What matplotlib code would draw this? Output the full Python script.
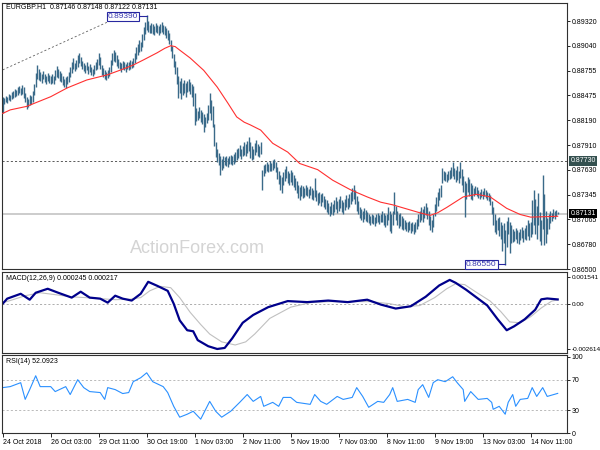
import matplotlib
matplotlib.use('Agg')
import matplotlib.pyplot as plt
import numpy as np

plt.rcParams['font.family'] = ['Liberation Sans', 'DejaVu Sans']

# hourly EURGBP bars, high / low in pips (0.0001)
highs = [8846, 8845, 8847, 8846, 8849, 8848, 8851, 8853,
         8855, 8854, 8857, 8858, 8856, 8859, 8857,
         8850, 8846, 8843, 8848, 8847, 8852,
         8860, 8873, 8882,
         8877, 8874, 8872, 8875, 8872, 8870, 8873, 8871, 8869, 8872, 8870, 8876, 8881, 8878, 8875, 8873, 8870, 8866, 8868, 8870,
         8874, 8880, 8886, 8890, 8884, 8888, 8893, 8896, 8891, 8887,
         8884, 8882, 8885, 8881, 8883, 8880, 8878, 8882, 8886, 8889,
         8896, 8891,
         8882, 8879, 8876, 8874, 8876, 8880,
         8888, 8896, 8899, 8897, 8893,
         8889, 8886, 8884, 8887, 8885, 8883, 8886, 8885, 8888, 8887, 8890,
         8896, 8902, 8906, 8910, 8908,
         8917, 8925, 8931, 8939,
         8932, 8928, 8930, 8929, 8927, 8930, 8928, 8926, 8929, 8931, 8928, 8927, 8924, 8922, 8918, 8910,
         8904, 8895, 8887, 8880,
         8870, 8864, 8867, 8862,
         8865, 8862, 8864, 8866, 8863, 8860, 8858, 8850,
         8833, 8830, 8834, 8831, 8829, 8826, 8823, 8828,
         8836, 8850, 8842, 8835,
         8815, 8794, 8786,
         8782, 8778, 8775, 8779,
         8777, 8779, 8776, 8778, 8780, 8778, 8781, 8783, 8786,
         8788, 8791, 8786, 8790, 8794, 8792, 8796, 8800, 8795, 8790, 8786, 8793, 8797, 8792, 8790, 8794,
         8763, 8768, 8770, 8772, 8770, 8773, 8771, 8774, 8775, 8772, 8766,
         8762, 8757, 8755, 8760,
         8764, 8767, 8762, 8759, 8763, 8760, 8757, 8754, 8750,
         8745, 8743, 8746, 8744,
         8742, 8745, 8743, 8741, 8744, 8742, 8740,
         8753,
         8740, 8736, 8738, 8735, 8737, 8733, 8730, 8728,
         8725, 8722, 8726, 8724,
         8729, 8732, 8727, 8730, 8733, 8729, 8726, 8730, 8734, 8731, 8735, 8738,
         8742, 8746, 8740, 8733, 8727,
         8720, 8718, 8716, 8719, 8717, 8715,
         8712, 8710, 8713, 8711, 8709, 8712, 8714, 8711, 8713,
         8716, 8714, 8711, 8713,
         8720, 8716, 8712, 8716,
         8738,
         8722, 8716, 8712, 8714, 8710, 8708,
         8706, 8704, 8703, 8705, 8702, 8704, 8701, 8703, 8707,
         8712, 8716, 8720, 8718, 8722, 8725, 8720, 8716, 8710,
         8706, 8712,
         8724, 8732, 8738, 8742, 8746,
         8765, 8762,
         8760, 8758, 8761, 8763, 8766, 8772,
         8765, 8763, 8767, 8761, 8772, 8764,
         8756, 8750, 8748,
         8755, 8752, 8748, 8745, 8742, 8744, 8743,
         8740, 8738, 8741, 8739, 8742, 8740, 8738, 8737, 8734,
         8727, 8720, 8712, 8706, 8708,
         8709, 8704, 8700, 8702, 8694, 8705,
         8709, 8704, 8700, 8696,
         8693, 8697, 8694, 8692, 8696, 8698, 8694, 8697, 8700,
         8706, 8702, 8704,
         8728, 8740, 8730, 8722,
         8736, 8715, 8706,
         8757, 8735, 8716, 8708,
         8712, 8716, 8714, 8718, 8716, 8717, 8715]

lows = [8828, 8838, 8840, 8839, 8842, 8841, 8843, 8845,
        8846, 8847, 8848, 8850, 8848, 8849, 8845,
        8840, 8832, 8834, 8836, 8838, 8840,
        8848, 8857, 8866,
        8865, 8864, 8862, 8866, 8863, 8860, 8864, 8862, 8860, 8862, 8861, 8865, 8868, 8867, 8864, 8863, 8859, 8857, 8856, 8860,
        8863, 8868, 8873, 8878, 8875, 8877, 8880, 8884, 8881, 8877,
        8875, 8873, 8876, 8872, 8874, 8871, 8869, 8872, 8876, 8878,
        8882, 8877,
        8871, 8868, 8866, 8865, 8867, 8869,
        8874, 8882, 8887, 8885, 8881,
        8879, 8877, 8874, 8878, 8876, 8874, 8877, 8876, 8878, 8879, 8880,
        8884, 8889, 8894, 8897, 8898,
        8903, 8910, 8917, 8922,
        8920, 8918, 8919, 8917, 8916, 8920, 8918, 8916, 8919, 8920, 8917, 8916, 8913, 8911, 8906, 8898,
        8890, 8880, 8872, 8861,
        8845, 8850, 8843, 8848,
        8850, 8846, 8851, 8853, 8849, 8846, 8835, 8814,
        8818, 8820, 8822, 8817, 8815, 8806, 8812, 8816,
        8820, 8828, 8819, 8812,
        8790, 8777, 8772,
        8768, 8757, 8763, 8765,
        8768, 8767, 8766, 8769, 8770, 8768, 8770, 8772, 8774,
        8776, 8779, 8775, 8778, 8780, 8779, 8782, 8784, 8776, 8774, 8775, 8780, 8783, 8779, 8777, 8781,
        8740, 8756, 8759, 8761, 8760, 8762, 8761, 8763, 8765, 8760, 8752,
        8747, 8740, 8737, 8745,
        8750, 8753, 8748, 8745, 8749, 8746, 8743, 8740, 8736,
        8731, 8729, 8733, 8731,
        8732, 8734, 8733, 8731, 8734, 8730, 8728,
        8732,
        8727, 8723, 8725, 8722, 8726, 8720, 8718, 8715,
        8712, 8710, 8713, 8711,
        8715, 8718, 8714, 8716, 8719, 8715, 8712, 8717, 8720, 8718, 8721, 8724,
        8727, 8730, 8724, 8716, 8712,
        8708, 8706, 8704, 8707, 8705, 8703,
        8702, 8700, 8702, 8701, 8699, 8702, 8704, 8701, 8703,
        8704, 8700, 8698, 8700,
        8706, 8693, 8691, 8700,
        8712,
        8706, 8700, 8697, 8699, 8695, 8694,
        8695, 8693, 8692, 8694, 8691, 8693, 8690, 8692, 8695,
        8699, 8703, 8706, 8704, 8708, 8711, 8707, 8700, 8694,
        8692, 8698,
        8710, 8716, 8722, 8728, 8732,
        8748, 8751,
        8750, 8749, 8751, 8752, 8754, 8756,
        8752, 8749, 8751, 8748, 8753, 8745,
        8738, 8709, 8730,
        8738, 8733, 8730, 8729, 8733, 8735, 8733,
        8731, 8730, 8732, 8730, 8733, 8731, 8729, 8727, 8723,
        8712, 8700, 8692, 8690, 8694,
        8688, 8684, 8670, 8680, 8655, 8675,
        8690, 8668, 8680, 8681,
        8682, 8684, 8680, 8679, 8683, 8685, 8681, 8684, 8683,
        8688, 8683, 8686,
        8690, 8700, 8690, 8684,
        8700, 8682, 8677,
        8695, 8677, 8680, 8690,
        8695, 8702, 8705, 8708, 8707, 8710, 8712]

# moving average (bar index, pips)
ma_bars = [0, 5, 16, 32, 43, 56, 70, 78, 87, 94, 103, 108, 112, 115, 118, 125, 134, 143, 150, 156, 161,
           165, 172, 180, 190, 198, 210, 220, 232, 243, 252, 260, 270, 278, 285, 290, 296, 307, 316,
           325, 336, 345, 352, 370]
ma_vals = [8827, 8831, 8835, 8846, 8856, 8865, 8871, 8876, 8882, 8888, 8896, 8901, 8904, 8903, 8899,
           8890, 8876, 8857, 8839, 8823, 8817, 8814, 8808, 8793, 8783, 8770, 8763, 8751, 8740, 8732,
           8726, 8723, 8718, 8714, 8711, 8714, 8720, 8732, 8735, 8732, 8719, 8712, 8709, 8710]

# MACD main and signal (units of 1e-4)
macd_bars = [0, 3, 12, 18, 22, 30, 37, 46, 52, 58, 65, 70, 75, 80, 86, 92, 97, 103, 110, 114, 118, 123,
             127, 130, 137, 143, 148, 153, 160, 167, 177, 190, 203, 217, 230, 243, 252, 262, 272, 282,
             291, 298, 302, 309, 316, 323, 330, 336, 341, 348, 355, 359, 363, 370]
macd_vals = [0.0, 2.9, 5.7, 2.3, 6.3, 8.6, 6.3, 3.5, 6.9, 3.5, 2.9, 0.6, 4.6, 2.9, 1.8, 5.7, 12.6, 10.3,
             7.4, 0.0, -9.6, -15.3, -15.9, -21.0, -24.5, -26.1, -25.5, -20.0, -11.0, -6.5, -2.0, 1.5,
             0.9, 1.8, 0.9, 2.3, -0.5, -2.8, -1.5, 4.0, 10.5, 13.7, 12.0, 8.0, 3.5, -1.0, -9.0, -15.3,
             -13.0, -9.0, -3.5, 2.5, 3.0, 2.45]
sig_bars = [0, 5, 15, 25, 35, 45, 55, 65, 75, 85, 92, 98, 105, 112, 118, 125, 132, 138, 146, 155, 162,
            168, 178, 192, 205, 218, 232, 245, 258, 268, 278, 288, 296, 302, 308, 315, 325, 332, 338,
            345, 352, 359, 366, 370]
sig_vals = [0.6, 1.8, 4.6, 6.3, 5.2, 4.0, 3.5, 2.9, 2.3, 2.6, 3.5, 7.4, 10.0, 9.2, 3.5, -5.0, -12.0,
            -17.5, -22.0, -23.8, -22.0, -17.5, -8.5, -2.0, 0.6, 1.2, 1.2, 1.2, 0.0, -1.7, -1.1, 3.5,
            8.6, 11.5, 11.0, 7.0, 1.5, -4.5, -10.5, -11.0, -7.5, -2.5, 1.5, 2.17]

# RSI(14)
rsi_bars = [0, 5, 12, 15, 18, 22, 25, 32, 35, 42, 45, 50, 54, 58, 65, 68, 70, 75, 80, 84, 87, 92, 96,
            100, 107, 110, 114, 118, 123, 127, 132, 138, 142, 146, 152, 158, 163, 167, 172, 174, 180,
            184, 187, 192, 196, 205, 208, 212, 216, 223, 227, 233, 236, 240, 244, 250, 254, 258, 260,
            263, 270, 275, 277, 280, 284, 287, 290, 295, 300, 303, 307, 308, 312, 317, 323, 326, 327,
            331, 335, 337, 340, 342, 345, 350, 353, 356, 360, 363, 370]
rsi_vals = [59.7, 61.0, 66.2, 44.2, 57.1, 75.3, 61.0, 61.0, 54.5, 61.0, 50.6, 70.1, 59.7, 54.5, 53.2,
            44.2, 59.7, 57.1, 51.9, 53.2, 67.5, 72.7, 79.2, 67.5, 61.0, 53.2, 35.1, 20.8, 24.7, 28.6,
            18.2, 41.6, 28.6, 20.8, 28.6, 40.3, 50.6, 41.6, 48.1, 35.1, 40.3, 35.1, 46.8, 46.8, 40.3,
            37.7, 50.6, 41.6, 37.7, 48.1, 44.2, 46.8, 59.7, 48.1, 33.8, 41.6, 40.3, 50.6, 59.7, 41.6,
            44.2, 40.3, 57.1, 63.6, 46.8, 66.2, 70.1, 67.5, 74.0, 66.2, 57.1, 41.6, 54.5, 44.2, 45.5,
            40.3, 31.2, 35.1, 24.7, 40.3, 50.6, 35.1, 44.2, 45.5, 59.7, 48.1, 59.7, 48.1, 52.1]

tick_bars = [0, 32, 64, 96, 128, 160, 192, 224, 256, 288, 320, 352]
tick_labels = ['24 Oct 2018', '26 Oct 03:00', '29 Oct 11:00', '30 Oct 19:00', '1 Nov 03:00',
               '2 Nov 11:00', '5 Nov 19:00', '7 Nov 03:00', '8 Nov 11:00', '9 Nov 19:00',
               '13 Nov 03:00', '14 Nov 11:00']
price_ticks = [0.89320, 0.89040, 0.88755, 0.88475, 0.88190, 0.87910, 0.87630, 0.87345, 0.87065,
               0.86780, 0.86500]
level_price = 0.87730
last_price = 0.87131
peak_price = 0.89390
low_price = 0.86550

FS = 5.0
bars = np.arange(len(highs))
hi = np.array(highs) / 10000
lo = np.array(lows) / 10000

fig = plt.figure(figsize=(6, 4.5), dpi=100)
L, W = 1.5 / 600, 565.5 / 600
ax1 = fig.add_axes([L, 1 - 269 / 450, W, 266 / 450])
ax2 = fig.add_axes([L, 1 - 353 / 450, W, 81 / 450])
ax3 = fig.add_axes([L, 1 - 433 / 450, W, 78 / 450])

for ax in (ax1, ax2, ax3):
    ax.set_xlim(-0.8, 376.2)
    for s in ax.spines.values():
        s.set_color('#303030')
        s.set_linewidth(0.8)
    ax.yaxis.tick_right()
    ax.tick_params(axis='y', direction='out', length=2.5, width=0.6, labelsize=FS, pad=1.0,
                   colors='black')

# main price panel
ax1.set_ylim(0.86500, 0.89526)
ax1.axhline(last_price, color='#c8c8c8', lw=1.3, zorder=1)
ax1.axhline(level_price, color='#404040', lw=0.6, ls=(0, (2.5, 2.5)), zorder=1)
ax1.plot([0, 70], [0.88765, 0.89310], color='#606060', lw=0.6, ls=(0, (2.5, 2.5)), zorder=1)
ax1.text(130, 0.86730, 'ActionForex.com', fontsize=13, color='#d4d4d4', ha='center', va='center',
         zorder=0)
ax1.vlines(bars, lo, hi, colors='#3a6a89', lw=1.0, zorder=2)
ax1.plot(ma_bars, np.array(ma_vals) / 10000, color='#ff3030', lw=0.8, zorder=3)
ax1.set_xticks([])
ax1.set_yticks(price_ticks)
ax1.set_yticklabels(['%.5f' % v for v in price_ticks])
ax1.text(0.008, 0.997, 'EURGBP.H1  0.87146 0.87148 0.87122 0.87131', transform=ax1.transAxes,
         fontsize=FS, va='top', ha='left')

box = dict(boxstyle='square,pad=0.12', fc='white', ec='#2828a0', lw=0.8)
ax1.text(80, 0.89378, '%.5f' % peak_price, fontsize=6, color='#3a3ab0', ha='center', va='center',
         bbox=box, zorder=5)
ax1.plot([90.5, 96], [0.89378, 0.89378], color='#2828a0', lw=0.8, zorder=4)
ax1.text(319, 0.86556, '%.5f' % low_price, fontsize=6, color='#3a3ab0', ha='center', va='center',
         bbox=box, zorder=5)
ax1.plot([329.5, 335], [0.86556, 0.86556], color='#2828a0', lw=0.8, zorder=4)

ytr = ax1.get_yaxis_transform()
ax1.text(1.006, level_price, '%.5f' % level_price, transform=ytr, fontsize=FS, color='white',
         ha='left', va='center', clip_on=False,
         bbox=dict(boxstyle='square,pad=0.18', fc='#34504f', ec='none'))
ax1.text(1.006, last_price, '%.5f' % last_price, transform=ytr, fontsize=FS, color='white',
         ha='left', va='center', clip_on=False,
         bbox=dict(boxstyle='square,pad=0.18', fc='black', ec='none'))

# MACD panel
ax2.set_ylim(-0.0028416, 0.0018255)
ax2.axhline(0, color='#a0a0a0', lw=0.6, ls=(0, (2.5, 2.5)))
ax2.plot(sig_bars, np.array(sig_vals) / 10000, color='#c0c0c0', lw=0.8)
ax2.plot(macd_bars, np.array(macd_vals) / 10000, color='#00008b', lw=1.6)
ax2.set_xticks([])
ax2.set_yticks([0.001541, 0.0, -0.002614])
ax2.set_yticklabels(['0.001541', '0.00', '-0.002614'])
ax2.tick_params(axis='y', labelsize=4.6, pad=0.8)
ax2.text(0.008, 0.96, 'MACD(12,26,9) 0.000245 0.000217', transform=ax2.transAxes, fontsize=FS,
         va='top', ha='left')

# RSI panel
ax3.set_ylim(0, 102.6)
for lvl in (70, 30):
    ax3.axhline(lvl, color='#b0b0b0', lw=0.6, ls=(0, (2.5, 2.5)))
ax3.plot(rsi_bars, rsi_vals, color='#2a90ff', lw=0.8)
ax3.set_yticks([100, 70, 30, 0])
ax3.set_yticklabels(['100', '70', '30', '0'])
ax3.text(0.008, 0.96, 'RSI(14) 52.0923', transform=ax3.transAxes, fontsize=FS, va='top', ha='left')
ax3.set_xticks(tick_bars)
ax3.set_xticklabels(tick_labels)
ax3.tick_params(axis='x', direction='out', length=3, width=0.6, labelsize=FS, pad=1.5)
for t in ax3.get_xticklabels():
    t.set_ha('left')

fig.savefig('out.png', dpi=100)
